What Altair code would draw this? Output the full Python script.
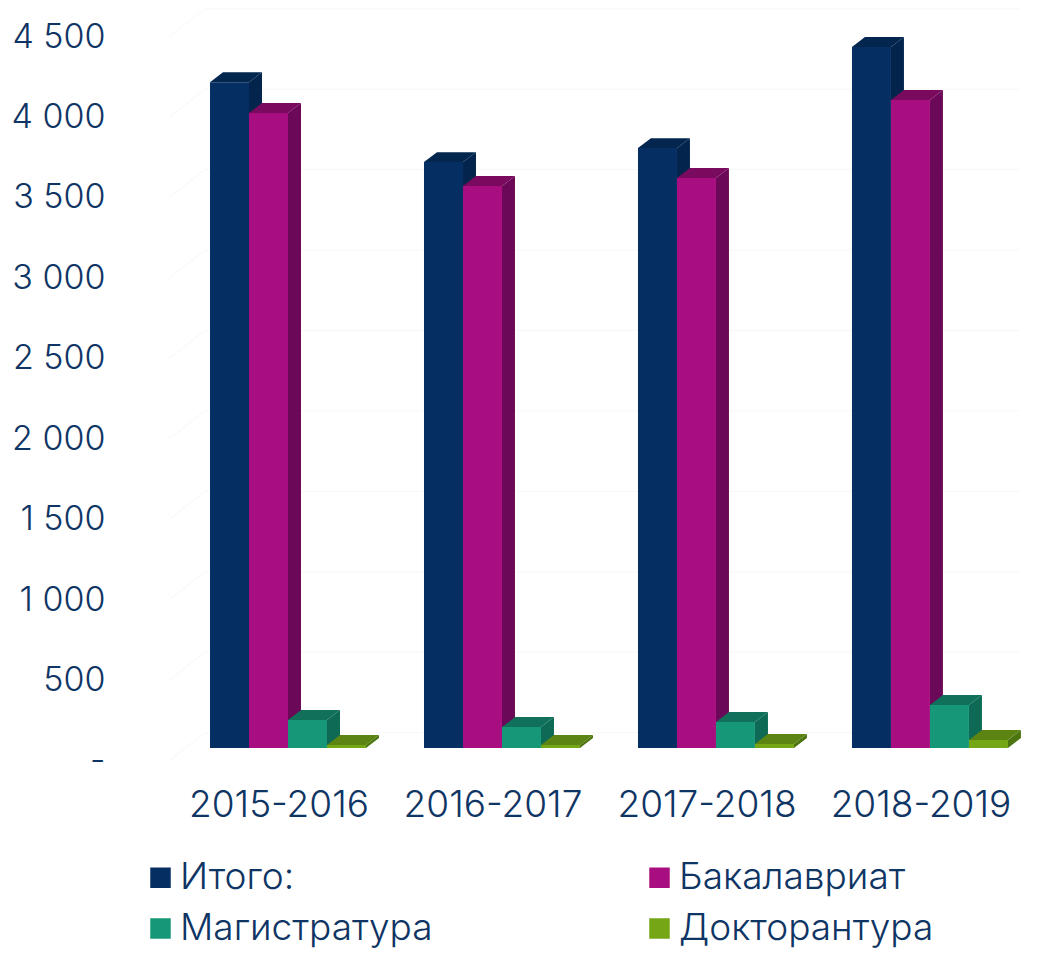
import json
import altair as alt
import pandas as pd

years = ["2015-2016", "2016-2017", "2017-2018", "2018-2019"]
series = ["Итого:", "Бакалавриат", "Магистратура", "Докторантура"]
total = [4139, 3642, 3729, 4357]
bachelor = [3947, 3493, 3543, 4028]
master = [174, 130, 162, 267]
doctoral = [19, 19, 25, 50]
y_ticks = [0, 500, 1000, 1500, 2000, 2500, 3000, 3500, 4000, 4500]

front_colors = ["#052e62", "#a80e7f", "#169878", "#74a616"]
side_colors = ["#03254d", "#6b0857", "#0e6a55", "#4c7510"]
top_colors = ["#03264f", "#7a0a5e", "#10705a", "#5b8412"]
text_color = "#0f3564"
font = "Inter"
weight = 300

# 3D projection constants, in data units
STEP = 5.487      # group spacing in bar widths
DX = 0.333        # depth along x
DY = 62           # depth along y
BASE = 74.6       # lift of the bars' front plane above the axis zero

values = [total, bachelor, master, doctoral]
front = []
faces = []
for s, name in enumerate(series):
    side, top = [], []
    for g, year in enumerate(years):
        x0 = g * STEP + s
        x1 = x0 + 1
        v = values[s][g] + BASE
        front.append(dict(series=name, x=x0, x2=x1, y=BASE, y2=v))
        side += [
            dict(id=f"g{g}", x=x1, low=BASE, high=v),
            dict(id=f"g{g}", x=x1 + DX, low=BASE + DY, high=v + DY),
        ]
        top += [
            dict(id=f"g{g}", x=x0, low=v, high=v),
            dict(id=f"g{g}", x=x0 + DX, low=v, high=v + DY),
            dict(id=f"g{g}", x=x1, low=v, high=v + DY),
            dict(id=f"g{g}", x=x1 + DX, low=v + DY, high=v + DY),
        ]
    faces.append((side, top))

grid = []
for t in y_ticks:
    grid += [
        dict(t=t, o=0, x=-1.026, y=t),
        dict(t=t, o=1, x=-0.128, y=t + 170),
        dict(t=t, o=2, x=20.77, y=t + 170),
    ]

x_scale = alt.Scale(domain=[-2.308, 21.18], nice=False, zero=False)
y_scale = alt.Scale(domain=[0, 4600], nice=False, zero=False)

label_centers = [1.756 + STEP * i for i in range(len(years))]
x_expr = f"{json.dumps(years)}[round((datum.value-1.756)/{STEP})]"
x_axis = alt.Axis(
    values=label_centers, labelExpr=x_expr, title=None, domain=False, ticks=False, grid=False,
    labelFont=font, labelFontWeight=weight, labelFontSize=37, labelColor=text_color, labelPadding=27,
    labelOverlap=False, labelBaseline="top", labelAlign="center", labelLimit=400,
)
y_axis = alt.Axis(
    values=y_ticks,
    labelExpr="datum.value==0?'-':replace(format(datum.value,','),',',' ')",
    title=None, domain=False, ticks=False, grid=False,
    labelFont=font, labelFontWeight=weight, labelFontSize=34, labelColor=text_color, labelPadding=15,
    labelOffset=1, labelOverlap=False,
)

grid_layer = alt.Chart(pd.DataFrame(grid)).mark_line(color="#f7f7f7", strokeWidth=1).encode(
    x=alt.X("x:Q", scale=x_scale, axis=x_axis),
    y=alt.Y("y:Q", scale=y_scale, axis=y_axis),
    detail="t:N",
    order="o:Q",
)


def face_layer(rows, color):
    return alt.Chart(pd.DataFrame(rows)).mark_area(color=color, orient="vertical").encode(
        x=alt.X("x:Q", scale=x_scale),
        y=alt.Y("low:Q", scale=y_scale, stack=None),
        y2="high:Q",
        detail="id:N",
    )


side_layers = [face_layer(faces[s][0], side_colors[s]) for s in range(4)]
top_layers = [face_layer(faces[s][1], top_colors[s]) for s in range(4)]

front_layer = alt.Chart(pd.DataFrame(front)).mark_rect().encode(
    x=alt.X("x:Q", scale=x_scale),
    x2="x2:Q",
    y=alt.Y("y:Q", scale=y_scale),
    y2="y2:Q",
    color=alt.Color(
        "series:N",
        scale=alt.Scale(domain=series, range=front_colors),
        legend=alt.Legend(
            orient="none", legendX=22, legendY=839, columns=2, title=None,
            direction="horizontal",
            symbolType="square", symbolSize=420, symbolStrokeWidth=0,
            labelFont=font, labelFontWeight=weight, labelFontSize=37, labelColor=text_color,
            labelOffset=1, columnPadding=208, rowPadding=13, labelLimit=400,
        ),
    ),
)

chart = alt.layer(grid_layer, *side_layers, *top_layers, front_layer).properties(
    width=916, height=740,
    padding={"left": 112, "top": 12, "right": 8, "bottom": 190},
    autosize=alt.AutoSizeParams(type="none"),
    background="white",
).configure_view(stroke=None)

chart.save("out.html", embed_options={"renderer": "svg", "actions": False})
